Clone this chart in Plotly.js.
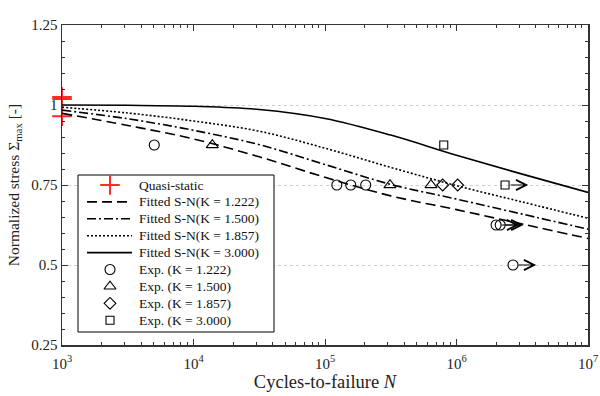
<!DOCTYPE html>
<html>
<head>
<meta charset="utf-8">
<script src="https://cdn.plot.ly/plotly-3.0.1.min.js"></script>
<style>html,body{margin:0;padding:0;background:#fff;}#chart{width:600px;height:396px;}</style>
</head>
<body>
<div id="chart"></div>
<script>
// ---- data ----
const fitN = [1e3, 3.162e3, 1e4, 3.162e4, 1e5, 3.162e5, 1e6, 3.162e6, 1e7];
const fitK1222 = [0.974, 0.936, 0.894, 0.838, 0.774, 0.716, 0.673, 0.628, 0.583];
const fitK1500 = [0.984, 0.957, 0.921, 0.876, 0.814, 0.752, 0.706, 0.659, 0.612];
const fitK1857 = [0.993, 0.975, 0.950, 0.918, 0.865, 0.805, 0.748, 0.697, 0.646];
const fitK3000 = [1.000, 0.999, 0.996, 0.986, 0.958, 0.906, 0.843, 0.784, 0.727];

const qsN = [1e3, 1e3, 1e3];
const qsS = [1.025, 1.019, 0.965];

const expK1222N = [5.03e3, 1.23e5, 1.57e5, 2.04e5, 2.0e6, 2.15e6, 2.69e6];
const expK1222S = [0.875, 0.75, 0.75, 0.75, 0.625, 0.625, 0.5];
const expK1222Runout = [false, false, false, false, true, true, true];

const expK1500N = [1.39e4, 3.12e5, 6.4e5];
const expK1500S = [0.875, 0.75, 0.75];
const expK1500Runout = [false, false, false];

const expK1857N = [7.85e5, 1.02e6];
const expK1857S = [0.75, 0.75];
const expK1857Runout = [false, false];

const expK3000N = [8.0e5, 2.34e6];
const expK3000S = [0.875, 0.75];
const expK3000Runout = [false, true];

const runoutFactor = 1.5;

const xTickVals = [1e3, 1e4, 1e5, 1e6, 1e7];
const xTickText = ['10<sup>3</sup>', '10<sup>4</sup>', '10<sup>5</sup>', '10<sup>6</sup>', '10<sup>7</sup>'];
const yTickVals = [0.25, 0.5, 0.75, 1, 1.25];
const yTickText = ['0.25', '0.5', '0.75', '1', '1.25'];

const seriesNames = ['Quasi-static',
  'Fitted S-N(K = 1.222)', 'Fitted S-N(K = 1.500)', 'Fitted S-N(K = 1.857)', 'Fitted S-N(K = 3.000)',
  'Exp. (K = 1.222)', 'Exp. (K = 1.500)', 'Exp. (K = 1.857)', 'Exp. (K = 3.000)'];

// ---- styles ----
const serif = 'Liberation Serif, Times New Roman, serif';
const red = '#ff2a2a';
const qsMarker = {symbol: 'cross-thin-open', size: 14, color: red, line: {width: 2, color: red}};
const lineStyles = [
  {color: '#000', width: 1.6, dash: '10px,5px'},
  {color: '#000', width: 1.6, dash: '9px,3px,2px,3px'},
  {color: '#000', width: 1.6, dash: '2px,2px'},
  {color: '#000', width: 1.6, dash: 'solid'}
];
const markerStyles = [
  {symbol: 'circle-open', size: 10},
  {symbol: 'triangle-up-open', size: 10.5},
  {symbol: 'diamond-open', size: 9},
  {symbol: 'square-open', size: 8}
].map(m => Object.assign(m, {color: '#000', line: {width: 1.1, color: '#000'}}));

// ---- data traces ----
const traces = [];
traces.push({x: qsN, y: qsS, type: 'scatter', mode: 'markers', name: seriesNames[0],
  cliponaxis: false, marker: qsMarker, hoverinfo: 'skip'});

[fitK1222, fitK1500, fitK1857, fitK3000].forEach((ys, i) => traces.push({
  x: fitN, y: ys, type: 'scatter', mode: 'lines', name: seriesNames[1 + i],
  line: Object.assign({shape: 'spline'}, lineStyles[i])}));

const expSets = [[expK1222N, expK1222S, expK1222Runout], [expK1500N, expK1500S, expK1500Runout],
  [expK1857N, expK1857S, expK1857Runout], [expK3000N, expK3000S, expK3000Runout]];
expSets.forEach((s, i) => traces.push({x: s[0], y: s[1], type: 'scatter', mode: 'markers',
  name: seriesNames[5 + i], marker: markerStyles[i]}));

// runout arrows
const annotations = [];
expSets.forEach(set => {
  set[0].forEach((n, i) => {
    if (!set[2][i]) return;
    annotations.push({xref: 'x', yref: 'y', axref: 'x', ayref: 'y',
      x: Math.log10(n * runoutFactor), y: set[1][i], ax: Math.log10(n), ay: set[1][i],
      text: '', showarrow: true, arrowhead: 5, arrowsize: 1.8, arrowwidth: 1.1,
      arrowcolor: '#000', standoff: 0, startstandoff: 4});
  });
});

// ---- legend (drawn on a hidden overlay axis pair spanning the plot area) ----
const plotW = 526, plotH = 320;
const lgLeft = 16, lgRight = 212, lgTop = 150, lgBottom = 307;   // px inside plot area
const rowTop = 160, rowStep = 16.9;
const symL = 25, symR = 70, symC = 48, textX = 75;
const px2x = p => p / plotW, px2y = p => 1 - p / plotH;

traces.push({x: [lgLeft, lgRight, lgRight, lgLeft, lgLeft].map(px2x),
  y: [lgTop, lgTop, lgBottom, lgBottom, lgTop].map(px2y),
  xaxis: 'x2', yaxis: 'y2', type: 'scatter', mode: 'lines', fill: 'toself',
  fillcolor: '#fff', line: {color: '#000', width: 1}, hoverinfo: 'skip', showlegend: false});

seriesNames.forEach((name, i) => {
  const yc = px2y(rowTop + rowStep * i);
  if (i === 0) {
    traces.push({x: [px2x(symC)], y: [yc], xaxis: 'x2', yaxis: 'y2', type: 'scatter', mode: 'markers',
      marker: qsMarker, showlegend: false, hoverinfo: 'skip'});
  } else if (i <= 4) {
    traces.push({x: [px2x(symL), px2x(symR)], y: [yc, yc], xaxis: 'x2', yaxis: 'y2', type: 'scatter',
      mode: 'lines', line: lineStyles[i - 1], showlegend: false, hoverinfo: 'skip'});
  } else {
    traces.push({x: [px2x(symC)], y: [yc], xaxis: 'x2', yaxis: 'y2', type: 'scatter', mode: 'markers',
      marker: markerStyles[i - 5], showlegend: false, hoverinfo: 'skip'});
  }
  annotations.push({xref: 'paper', yref: 'paper', x: px2x(textX), y: yc, xanchor: 'left', yanchor: 'middle',
    text: name, showarrow: false, font: {family: serif, size: 13.5, color: '#111'}});
});

const layout = {
  width: 600, height: 396,
  margin: {l: 62, r: 12, t: 25, b: 51},
  paper_bgcolor: '#fff', plot_bgcolor: '#fff',
  font: {family: serif, size: 15, color: '#222'},
  showlegend: false,
  xaxis: {type: 'log', range: [2.99999, 7.00001], tickmode: 'array', tickvals: xTickVals, ticktext: xTickText,
    ticks: 'inside', ticklen: 6, tickcolor: '#333', mirror: 'ticks', showline: true,
    linecolor: '#333', linewidth: 1.5, showgrid: false, zeroline: false, ticklabelstandoff: 4,
    minor: {ticks: 'inside', ticklen: 3, tickcolor: '#333', dtick: 'D1', showgrid: false},
    tickfont: {family: serif, size: 15, color: '#222'},
    title: {text: 'Cycles-to-failure <i>N</i>', font: {family: serif, size: 18.5, color: '#222'}, standoff: 4}},
  yaxis: {range: [0.25, 1.25], tickmode: 'array', tickvals: yTickVals, ticktext: yTickText,
    ticks: 'inside', ticklen: 6, tickcolor: '#333',
    mirror: 'ticks', showline: true, linecolor: '#333', linewidth: 1.5, zeroline: false,
    showgrid: true, gridcolor: '#cfcfcf', griddash: 'dot', gridwidth: 1,
    minor: {ticks: 'inside', ticklen: 3, tickcolor: '#333', dtick: 0.05, showgrid: false},
    tickfont: {family: serif, size: 15, color: '#222'},
    title: {text: 'Normalized stress Σ<sub>max</sub> [-]', font: {family: serif, size: 15.5, color: '#222'}, standoff: 8}},
  xaxis2: {overlaying: 'x', anchor: 'y2', range: [0, 1], visible: false, fixedrange: true},
  yaxis2: {overlaying: 'y', anchor: 'x2', range: [0, 1], visible: false, fixedrange: true},
  annotations: annotations
};

Plotly.newPlot('chart', traces, layout, {displayModeBar: false, staticPlot: true});
</script>
</body>
</html>
